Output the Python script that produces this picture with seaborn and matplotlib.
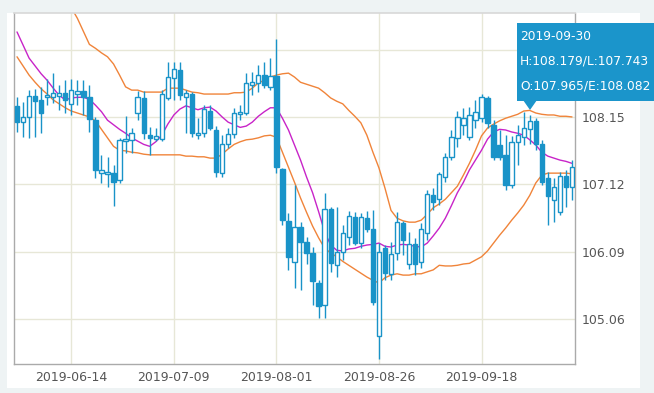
import numpy as np
import pandas as pd
import matplotlib
matplotlib.use("Agg")
import matplotlib.pyplot as plt
from matplotlib.patches import Rectangle, Polygon
import seaborn as sns

# --- data ---
start_date = "2019-06-03"
n_days = 93
tick_idx = [9, 26, 43, 60, 77]
y_ticks = [105.06, 106.09, 107.12, 108.15, 109.18]
hidden_tick = 109.18  # its label sits under the tooltip

open_ = [108.32, 108.07, 108.15, 108.47, 108.41, 108.45, 108.45, 108.47, 108.52, 108.35,
         108.50, 108.55, 108.45, 108.10, 107.29, 107.28, 107.29, 107.18, 107.78, 107.80,
         108.21, 108.44, 107.87, 107.81, 107.81, 108.44, 108.74, 108.87, 108.45, 108.50,
         107.87, 107.90, 108.24, 107.95, 107.29, 107.73, 107.89, 108.19, 108.21, 108.64,
         108.67, 108.79, 108.61, 108.78, 107.35, 106.56, 105.93, 106.47, 106.24, 106.07,
         105.61, 105.27, 106.74, 105.88, 106.08, 106.31, 106.62, 106.22, 106.60, 106.43,
         104.80, 106.14, 105.75, 106.07, 106.53, 105.90, 106.21, 105.93, 106.37, 106.95,
         106.89, 107.23, 107.54, 107.83, 108.03, 107.84, 108.10, 108.13, 108.44, 108.03,
         107.72, 107.57, 107.11, 107.77, 107.84, 107.965, 108.09, 107.73, 107.22, 106.88,
         106.69, 107.25, 107.08]
close = [108.07, 108.15, 108.47, 108.39, 108.21, 108.48, 108.52, 108.52, 108.41, 108.56,
         108.55, 108.45, 108.12, 107.34, 107.34, 107.31, 107.15, 107.80, 107.81, 107.90,
         108.45, 107.90, 107.83, 107.86, 108.50, 108.76, 108.88, 108.48, 108.52, 107.90,
         107.90, 108.27, 107.98, 107.31, 107.73, 107.89, 108.21, 108.22, 108.67, 108.68,
         108.79, 108.64, 108.78, 107.38, 106.57, 106.01, 106.47, 106.24, 106.07, 105.64,
         105.26, 106.74, 105.91, 106.08, 106.37, 106.63, 106.22, 106.62, 106.43, 105.32,
         106.08, 105.76, 106.05, 106.54, 106.27, 106.21, 105.90, 106.43, 106.97, 106.85,
         107.28, 107.54, 107.84, 108.15, 108.13, 108.18, 108.22, 108.45, 108.06, 107.54,
         107.54, 107.11, 107.77, 107.87, 107.98, 108.082, 107.73, 107.15, 106.94, 107.08,
         107.25, 107.08, 107.38]
high = [108.45, 108.38, 108.56, 108.58, 108.61, 108.73, 108.82, 108.64, 108.71, 108.73,
        108.71, 108.71, 108.64, 108.15, 107.57, 107.54, 107.41, 107.83, 108.16, 107.98,
        108.55, 108.55, 107.99, 107.98, 108.56, 108.99, 108.99, 108.99, 108.56, 108.53,
        108.13, 108.33, 108.33, 108.01, 107.87, 107.98, 108.29, 108.33, 108.82, 108.84,
        108.94, 108.99, 109.05, 109.34, 107.37, 106.68, 107.11, 106.54, 106.31, 106.16,
        105.65, 106.99, 106.77, 106.77, 106.50, 106.71, 106.69, 106.68, 106.71, 106.72,
        106.22, 106.19, 106.24, 106.69, 106.56, 106.39, 106.30, 106.53, 107.03, 107.06,
        107.31, 107.60, 107.95, 108.24, 108.29, 108.30, 108.41, 108.50, 108.47, 108.10,
        107.95, 107.87, 107.86, 108.03, 108.22, 108.179, 108.13, 107.80, 107.31, 107.22,
        107.31, 107.34, 107.49]
low = [107.92, 107.84, 107.83, 107.84, 107.90, 108.33, 108.36, 108.26, 108.21, 108.18,
       108.33, 108.18, 107.92, 107.22, 107.14, 107.08, 106.79, 107.14, 107.60, 107.60,
       108.10, 107.81, 107.57, 107.78, 107.78, 108.41, 108.41, 108.41, 107.90, 107.84,
       107.81, 107.84, 107.95, 107.23, 107.23, 107.67, 107.83, 108.10, 108.18, 108.48,
       108.53, 108.59, 108.56, 107.29, 106.50, 105.81, 105.53, 105.50, 105.90, 105.27,
       105.07, 105.07, 105.78, 105.70, 105.96, 106.19, 106.19, 106.14, 106.39, 105.27,
       104.45, 105.65, 105.65, 105.96, 106.04, 105.82, 105.73, 105.84, 106.27, 106.72,
       106.80, 107.15, 107.49, 107.69, 107.87, 107.80, 107.98, 108.07, 107.98, 107.49,
       107.49, 107.03, 107.06, 107.41, 107.72, 107.743, 107.64, 107.11, 106.50, 106.54,
       106.65, 106.77, 106.88]

ma_line = [109.45, 109.25, 109.05, 108.93, 108.81, 108.71, 108.59, 108.48, 108.41, 108.44,
           108.45, 108.45, 108.42, 108.33, 108.23, 108.10, 108.03, 107.96, 107.90, 107.83,
           107.78, 107.73, 107.70, 107.77, 107.87, 108.04, 108.18, 108.27, 108.32, 108.29,
           108.26, 108.29, 108.30, 108.24, 108.15, 108.07, 108.03, 107.99, 108.01, 108.07,
           108.16, 108.23, 108.29, 108.29, 108.13, 107.95, 107.72, 107.49, 107.23, 106.99,
           106.70, 106.39, 106.19, 106.11, 106.10, 106.13, 106.14, 106.17, 106.19, 106.20,
           106.22, 106.17, 106.16, 106.19, 106.20, 106.19, 106.17, 106.16, 106.22, 106.33,
           106.45, 106.60, 106.79, 106.99, 107.15, 107.34, 107.49, 107.64, 107.81, 107.92,
           107.96, 107.95, 107.92, 107.90, 107.87, 107.80, 107.72, 107.61, 107.55, 107.52,
           107.49, 107.47, 107.44]
band_up = [110.24, 110.21, 110.17, 110.12, 110.09, 110.06, 110.01, 109.94, 109.86, 109.82,
           109.66, 109.46, 109.26, 109.20, 109.13, 109.07, 108.96, 108.79, 108.61, 108.56,
           108.56, 108.53, 108.53, 108.53, 108.53, 108.59, 108.59, 108.59, 108.56, 108.53,
           108.52, 108.50, 108.50, 108.50, 108.50, 108.50, 108.52, 108.52, 108.53, 108.59,
           108.67, 108.71, 108.76, 108.79, 108.81, 108.82, 108.76, 108.68, 108.65, 108.62,
           108.59, 108.52, 108.44, 108.39, 108.35, 108.25, 108.16, 108.06, 107.87, 107.61,
           107.37, 107.06, 106.72, 106.60, 106.56, 106.54, 106.54, 106.57, 106.66, 106.76,
           106.82, 106.89, 106.99, 107.09, 107.26, 107.44, 107.64, 107.86, 107.98, 108.04,
           108.09, 108.13, 108.16, 108.19, 108.24, 108.25, 108.21, 108.19, 108.18, 108.18,
           108.16, 108.16, 108.15]
band_low = [109.07, 108.93, 108.79, 108.68, 108.58, 108.50, 108.41, 108.35, 108.29, 108.24,
            108.21, 108.18, 108.15, 108.09, 107.96, 107.83, 107.70, 107.64, 107.63, 107.61,
            107.60, 107.58, 107.57, 107.57, 107.57, 107.57, 107.57, 107.57, 107.55, 107.55,
            107.54, 107.54, 107.52, 107.52, 107.58, 107.66, 107.73, 107.77, 107.80, 107.81,
            107.83, 107.86, 107.87, 107.84, 107.61, 107.38, 107.15, 106.91, 106.69, 106.48,
            106.30, 106.14, 106.07, 106.01, 105.94, 105.88, 105.82, 105.76, 105.70, 105.65,
            105.61, 105.69, 105.73, 105.75, 105.73, 105.73, 105.75, 105.75, 105.78, 105.81,
            105.88, 105.87, 105.87, 105.88, 105.90, 105.91, 105.96, 106.01, 106.10, 106.22,
            106.34, 106.45, 106.57, 106.68, 106.80, 106.95, 107.14, 107.26, 107.29, 107.29,
            107.29, 107.29, 107.28]

tip_lines = ["2019-09-30", "H:108.179/L:107.743", "O:107.965/E:108.082"]

BLUE = "#1993c8"
ORANGE = "#f0843a"
MAGENTA = "#c824c8"
TIP = "#1b95cb"
GRID = "#e7e7d7"

W, H = 654, 393

sns.set_theme(style="white")
plt.rcParams["font.family"] = ["DejaVu Sans"]

dates = pd.bdate_range(start_date, periods=n_days)
df = pd.DataFrame({"idx": np.arange(n_days), "open": open_, "close": close,
                   "high": high, "low": low, "ma": ma_line,
                   "up": band_up, "lo": band_low})

fig = plt.figure(figsize=(W / 100, H / 100), dpi=100, facecolor="#eef3f4")
# white card behind the chart
fig.add_artist(Rectangle((7 / W, 5 / H), (640 - 7) / W, (393 - 13 - 5) / H,
                         transform=fig.transFigure, facecolor="white",
                         edgecolor="none", zorder=0))
ax = fig.add_axes([14 / W, (H - 364) / H, (575 - 14) / W, (364 - 13) / H])
ax.set_facecolor("white")

# bands and moving average
sns.lineplot(data=df, x="idx", y="up", color=ORANGE, lw=1, ax=ax, zorder=2)
sns.lineplot(data=df, x="idx", y="lo", color=ORANGE, lw=1, ax=ax, zorder=2)
sns.lineplot(data=df, x="idx", y="ma", color=MAGENTA, lw=1, ax=ax, zorder=2)

# candles: rising = hollow, falling = filled
rise = df["close"] >= df["open"]
ax.vlines(df["idx"], df["low"], df["high"], color=BLUE, lw=1, zorder=3)
ax.bar(df["idx"][rise], (df["close"] - df["open"])[rise], bottom=df["open"][rise],
       width=0.72, facecolor="white", edgecolor=BLUE, lw=1, zorder=4)
ax.bar(df["idx"][~rise], (df["open"] - df["close"])[~rise], bottom=df["close"][~rise],
       width=0.72, facecolor=BLUE, edgecolor=BLUE, lw=1, zorder=4)

ax.set_xlim(-0.5, n_days - 0.5)
ax.set_ylim(104.37, 109.74)
ax.set_xticks(tick_idx)
ax.set_xticklabels([dates[i].strftime("%Y-%m-%d") for i in tick_idx])
ax.set_yticks(y_ticks)
ax.set_yticklabels(["" if v == hidden_tick else f"{v:.2f}" for v in y_ticks])
ax.yaxis.tick_right()
ax.tick_params(length=0, labelsize=9, colors="#555555")
ax.tick_params(axis="x", pad=5)
ax.tick_params(axis="y", pad=5)
ax.set_xlabel("")
ax.set_ylabel("")
ax.grid(True, color=GRID, lw=1, zorder=0)
ax.set_axisbelow(True)
for side in ["left", "bottom", "right"]:
    ax.spines[side].set_color("#aaaaaa")
    ax.spines[side].set_linewidth(1)
ax.spines["top"].set_color("#d9d9d9")


# tooltip box (figure pixel helpers)
def fx(px):
    return px / W


def fy(py):
    return 1 - py / H


fig.add_artist(Rectangle((fx(517), fy(101)), fx(654 - 517), 78 / H,
                         transform=fig.transFigure, facecolor=TIP,
                         edgecolor="none", zorder=10))
fig.add_artist(Polygon([(fx(523), fy(100)), (fx(537), fy(100)), (fx(530), fy(110))],
                       closed=True, transform=fig.transFigure, facecolor=TIP,
                       edgecolor="none", zorder=10))
for k, line in enumerate(tip_lines):
    fig.text(fx(520), fy(37 + 24.5 * k), line, color="white", fontsize=8.8,
             va="center", ha="left", zorder=11)

fig.savefig("out.png", dpi=100, facecolor=fig.get_facecolor())
